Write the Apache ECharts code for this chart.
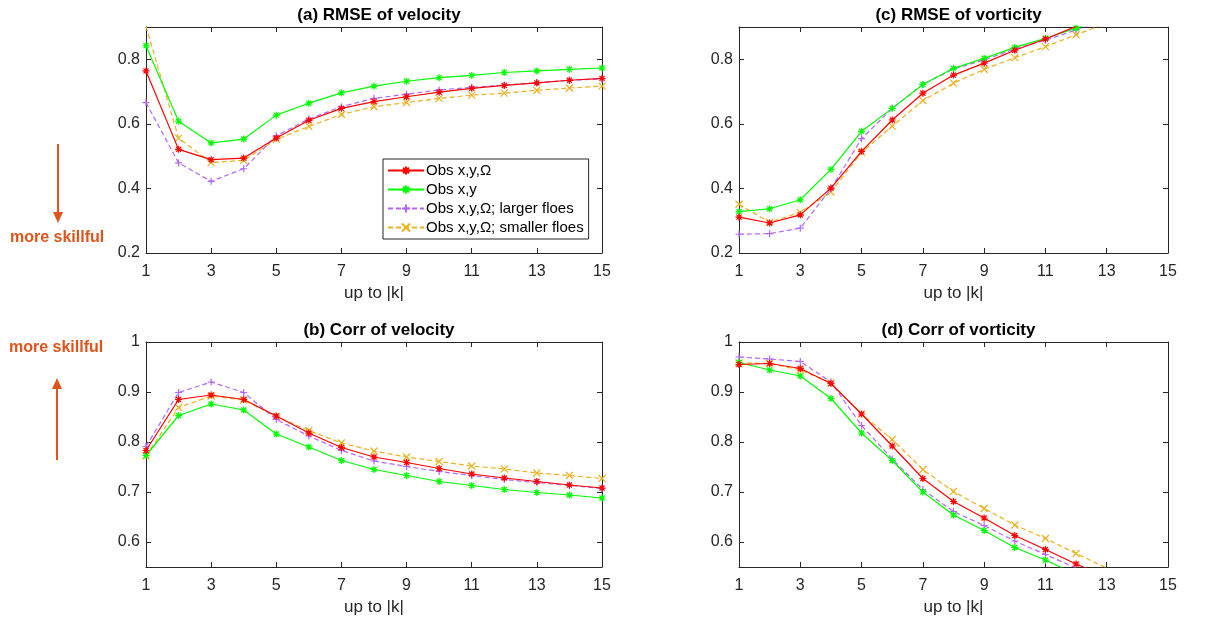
<!DOCTYPE html>
<html>
	<head>
		<meta charset="utf-8">
		<title></title>
		<style type="text/css">
			* {
				margin: 0;
				padding: 0;
			}

			#main {
				width: 1217px;
				height: 621px;
				background: #fff;
			}
		</style>
		<script src="https://cdn.jsdelivr.net/npm/echarts@6/dist/echarts.min.js"></script>
	</head>
	<body>
		<div id="main"></div>
	</body>
	<script type="text/javascript">
		// 横轴 |k|
		var kList = ['1', '2', '3', '4', '5', '6', '7', '8', '9', '10', '11', '12', '13', '14', '15'];
		var seriesNames = ['Obs x,y,Ω', 'Obs x,y', 'Obs x,y,Ω; larger floes', 'Obs x,y,Ω; smaller floes'];

		// (a) RMSE of velocity
		var rmseVelRed = [0.764, 0.521, 0.489, 0.494, 0.556, 0.611, 0.648, 0.669, 0.684, 0.698, 0.710, 0.719, 0.727, 0.735, 0.741];
		var rmseVelGreen = [0.842, 0.608, 0.541, 0.553, 0.627, 0.664, 0.696, 0.717, 0.732, 0.743, 0.750, 0.759, 0.764, 0.769, 0.773];
		var rmseVelPurple = [0.666, 0.479, 0.422, 0.461, 0.563, 0.615, 0.653, 0.679, 0.692, 0.705, 0.713, 0.720, 0.727, 0.735, 0.739];
		var rmseVelOrange = [0.902, 0.556, 0.480, 0.487, 0.552, 0.592, 0.629, 0.653, 0.666, 0.679, 0.689, 0.695, 0.704, 0.711, 0.717];

		// (c) RMSE of vorticity (values past 0.9 are cut by the axis)
		var rmseVorRed = [0.311, 0.293, 0.318, 0.401, 0.515, 0.612, 0.695, 0.751, 0.788, 0.828, 0.863, 0.902, 0.935, 0.965, 0.99];
		var rmseVorGreen = [0.328, 0.337, 0.365, 0.459, 0.577, 0.648, 0.722, 0.772, 0.803, 0.837, 0.865, 0.896, 0.93, 0.96, 0.99];
		var rmseVorPurple = [0.258, 0.260, 0.277, 0.399, 0.554, 0.648, 0.722, 0.770, 0.798, 0.832, 0.859, 0.891, 0.925, 0.955, 0.985];
		var rmseVorOrange = [0.351, 0.295, 0.326, 0.389, 0.511, 0.593, 0.672, 0.726, 0.769, 0.805, 0.839, 0.876, 0.912, 0.945, 0.975];

		// (b) Corr of velocity
		var corrVelRed = [0.783, 0.885, 0.894, 0.885, 0.852, 0.818, 0.789, 0.770, 0.759, 0.747, 0.736, 0.728, 0.721, 0.714, 0.708];
		var corrVelGreen = [0.773, 0.853, 0.876, 0.864, 0.816, 0.790, 0.763, 0.745, 0.733, 0.721, 0.713, 0.705, 0.699, 0.694, 0.688];
		var corrVelPurple = [0.791, 0.899, 0.920, 0.899, 0.845, 0.812, 0.783, 0.762, 0.751, 0.741, 0.733, 0.725, 0.719, 0.713, 0.707];
		var corrVelOrange = [0.772, 0.869, 0.892, 0.884, 0.851, 0.823, 0.798, 0.782, 0.770, 0.761, 0.752, 0.746, 0.738, 0.733, 0.727];

		// (d) Corr of vorticity (values under 0.55 are cut by the axis)
		var corrVorRed = [0.955, 0.957, 0.947, 0.917, 0.856, 0.792, 0.727, 0.681, 0.648, 0.613, 0.585, 0.556, 0.53, 0.505, 0.48];
		var corrVorGreen = [0.959, 0.944, 0.932, 0.887, 0.818, 0.763, 0.700, 0.654, 0.623, 0.589, 0.564, 0.535, 0.51, 0.485, 0.46];
		var corrVorPurple = [0.970, 0.966, 0.961, 0.920, 0.833, 0.766, 0.705, 0.661, 0.633, 0.602, 0.575, 0.548, 0.52, 0.495, 0.47];
		var corrVorOrange = [0.958, 0.957, 0.944, 0.918, 0.856, 0.805, 0.745, 0.701, 0.667, 0.634, 0.607, 0.577, 0.548, 0.52, 0.49];

		var chart = echarts.init(document.getElementById('main'));

		var axisColor = '#262626';
		var font = 'Liberation Sans';
		var colors = ['#ff0000', '#00ff00', '#b266ff', '#edb120'];
		var star = 'path://M0,-5L0,5M-5,0L5,0M-3.6,-3.6L3.6,3.6M-3.6,3.6L3.6,-3.6';
		var plus = 'path://M0,-5L0,5M-5,0L5,0';
		var cross = 'path://M-4,-4L4,4M-4,4L4,-4';
		var symbols = [star, star, plus, cross];
		var dashed = [false, false, true, true];

		var panels = [
			{ title: '(a) RMSE of velocity', left: 146, top: 27, width: 456, height: 226, min: 0.2, max: 0.9, interval: 0.2,
				data: [rmseVelRed, rmseVelGreen, rmseVelPurple, rmseVelOrange] },
			{ title: '(c) RMSE of vorticity', left: 739, top: 27, width: 429, height: 226, min: 0.2, max: 0.9, interval: 0.2,
				data: [rmseVorRed, rmseVorGreen, rmseVorPurple, rmseVorOrange] },
			{ title: '(b) Corr of velocity', left: 146, top: 342, width: 456, height: 225, min: 0.55, max: 1,
				data: [corrVelRed, corrVelGreen, corrVelPurple, corrVelOrange] },
			{ title: '(d) Corr of vorticity', left: 739, top: 342, width: 429, height: 225, min: 0.55, max: 1,
				data: [corrVorRed, corrVorGreen, corrVorPurple, corrVorOrange] }
		];

		var grids = [], xAxes = [], yAxes = [], series = [], titles = [];
		panels.forEach(function(p, i) {
			grids.push({ left: p.left, top: p.top, width: p.width, height: p.height, show: false });
			titles.push({
				text: p.title, left: p.left + p.width / 2, top: p.top - 25, textAlign: 'center',
				textStyle: { fontFamily: font, fontSize: 17, fontWeight: 'bold', color: '#000' }
			});
			var common = {
				type: 'category', data: kList, boundaryGap: false, gridIndex: i,
				axisLine: { lineStyle: { color: axisColor, width: 1 } },
				axisTick: { inside: true, length: 5, interval: 1, lineStyle: { color: axisColor } },
				splitLine: { show: false }
			};
			xAxes.push(Object.assign({}, common, {
				position: 'bottom',
				name: 'up to |k|', nameLocation: 'middle', nameGap: 32,
				nameTextStyle: { fontFamily: font, fontSize: 17, color: axisColor },
				axisLabel: { interval: 1, margin: 11, fontFamily: font, fontSize: 16, color: axisColor }
			}));
			xAxes.push(Object.assign({}, common, { position: 'top', axisLabel: { show: false } }));
			var yCommon = {
				type: 'value', gridIndex: i, min: p.min, max: p.max,
				axisLine: { show: true, lineStyle: { color: axisColor, width: 1 } },
				axisTick: { show: true, inside: true, length: 5, lineStyle: { color: axisColor } },
				splitLine: { show: false }
			};
			if (p.interval) yCommon.interval = p.interval;
			yAxes.push(Object.assign({}, yCommon, {
				position: 'left',
				axisLabel: { margin: 6, showMaxLabel: p.max === 1, showMinLabel: p.min === 0.2, fontFamily: font, fontSize: 16, color: axisColor,
					formatter: function(v) { return String(+v.toFixed(2)); } }
			}));
			yAxes.push(Object.assign({}, yCommon, { position: 'right', axisLabel: { show: false } }));

			p.data.forEach(function(d, j) {
				series.push({
					name: seriesNames[j], type: 'line', xAxisIndex: i * 2, yAxisIndex: i * 2,
					data: d, clip: true, z: 10 - j,
					symbol: symbols[j], symbolSize: 7,
					lineStyle: { color: colors[j], width: 1.2, type: dashed[j] ? [5, 3] : 'solid' },
					itemStyle: { color: colors[j], borderColor: colors[j], borderWidth: 1.2 },
					emphasis: { disabled: true },
					animation: false
				});
			});
		});

		var orange = '#e0541c';
		var option = {
			backgroundColor: '#fff',
			animation: false,
			title: titles,
			legend: {
				data: seriesNames, orient: 'vertical', left: 383, top: 159,
				padding: [3, 5, 3, 4], itemGap: 2, itemWidth: 36, itemHeight: 10,
				backgroundColor: '#fff', borderColor: axisColor, borderWidth: 1, borderRadius: 0,
				textStyle: { fontFamily: font, fontSize: 15, lineHeight: 17, color: '#000', padding: [0, 0, 0, -3] }
			},
			grid: grids,
			xAxis: xAxes,
			yAxis: yAxes,
			series: series,
			graphic: [
				// 下箭头
				{ type: 'line', shape: { x1: 58, y1: 144, x2: 58, y2: 216 }, style: { stroke: orange, lineWidth: 2 } },
				{ type: 'polygon', shape: { points: [[53, 212], [63, 212], [58, 223]] }, style: { fill: orange } },
				{ type: 'text', left: 10, top: 230, style: { text: 'more skillful', fill: orange, font: 'bold 16px "Liberation Sans"' } },
				// 上箭头
				{ type: 'text', left: 9, top: 340, style: { text: 'more skillful', fill: orange, font: 'bold 16px "Liberation Sans"' } },
				{ type: 'line', shape: { x1: 57, y1: 460, x2: 57, y2: 385 }, style: { stroke: orange, lineWidth: 2 } },
				{ type: 'polygon', shape: { points: [[52, 389], [62, 389], [57, 378]] }, style: { fill: orange } }
			]
		};
		chart.setOption(option);
	</script>
</html>
